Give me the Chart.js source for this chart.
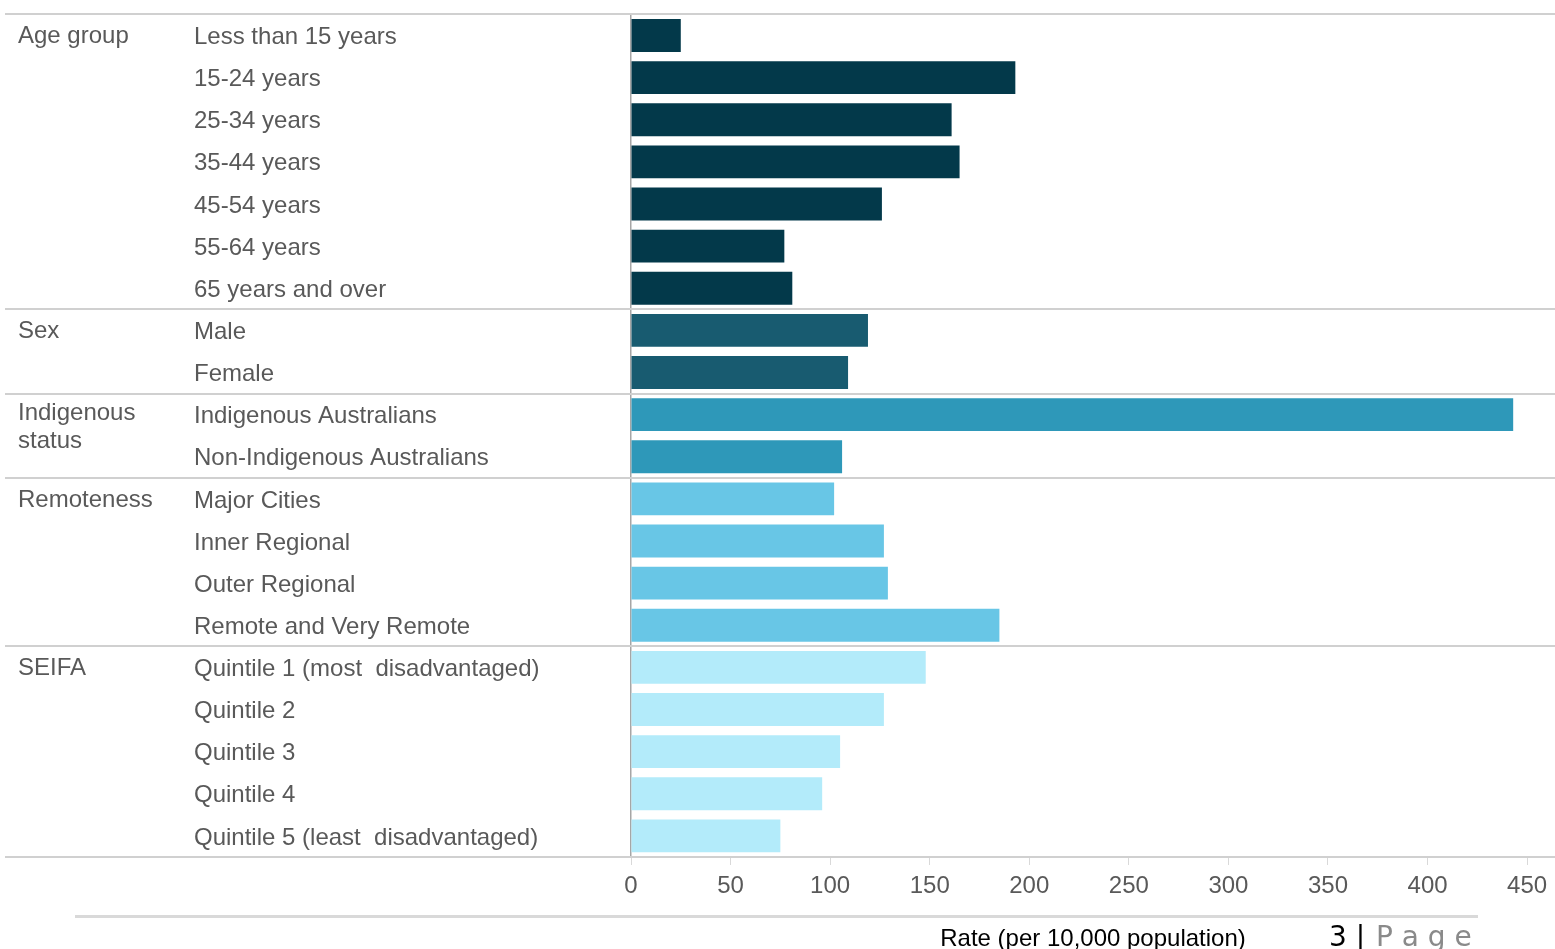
<!DOCTYPE html>
<html>
<head>
<meta charset="utf-8">
<script src="https://cdn.jsdelivr.net/npm/chart.js@4.4.1/dist/chart.umd.min.js"></script>
<style>
  html, body { margin: 0; padding: 0; background: #fff; }
  #wrap { position: relative; width: 1555px; height: 949px; }
</style>
</head>
<body>
<div id="wrap"><canvas id="rateChart" width="1555" height="949"></canvas></div>
<script>
const categories = [
    'Less than 15 years', '15-24 years', '25-34 years', '35-44 years', '45-54 years', '55-64 years', '65 years and over',
    'Male', 'Female',
    'Indigenous Australians', 'Non-Indigenous Australians',
    'Major Cities', 'Inner Regional', 'Outer Regional', 'Remote and Very Remote',
    'Quintile 1 (most  disadvantaged)', 'Quintile 2', 'Quintile 3', 'Quintile 4', 'Quintile 5 (least  disadvantaged)'
];
const rates = [25, 193, 161, 165, 126, 77, 81, 119, 109, 443, 106, 102, 127, 129, 185, 148, 127, 105, 96, 75];
const groupNames = [['Age group'], ['Sex'], ['Indigenous', 'status'], ['Remoteness'], ['SEIFA']];
const groupSizes = [7, 2, 2, 4, 5];
const groupColors = ['#03394a', '#185b70', '#2e98b9', '#68c6e6', '#b3ebfa'];
const xTicks = [0, 50, 100, 150, 200, 250, 300, 350, 400, 450];
const xTitle = 'Rate (per 10,000 population)';

const FONT = '"Liberation Sans", Arial, sans-serif';
const TEXT = '#595959';

// colour per bar from its group
const barColors = [];
groupSizes.forEach((n, g) => { for (let i = 0; i < n; i++) barColors.push(groupColors[g]); });

const groupPlugin = {
    id: 'groups',
    afterDraw(chart) {
        const ctx = chart.ctx;
        const y = chart.scales.y;
        const area = chart.chartArea;
        ctx.save();
        // horizontal separators
        ctx.strokeStyle = '#d0d0d0';
        ctx.lineWidth = 2;
        let start = 0;
        const bounds = [0];
        groupSizes.forEach(n => { start += n; bounds.push(start); });
        bounds.forEach(b => {
            const py = Math.round(area.top + b * (area.bottom - area.top) / categories.length);
            ctx.beginPath();
            ctx.moveTo(5, py);
            ctx.lineTo(chart.width, py);
            ctx.stroke();
        });
        // group labels
        ctx.fillStyle = TEXT;
        ctx.font = '24px ' + FONT;
        ctx.textAlign = 'left';
        ctx.textBaseline = 'middle';
        bounds.slice(0, -1).forEach((b, g) => {
            const py = y.getPixelForValue(b) + (groupNames[g].length > 1 ? -1 : 1);
            groupNames[g].forEach((line, k) => ctx.fillText(line, 18, py + k * 28));
        });
        // page footer
        ctx.strokeStyle = '#d9d9d9';
        ctx.lineWidth = 3;
        ctx.beginPath();
        ctx.moveTo(75, 916.5);
        ctx.lineTo(1478, 916.5);
        ctx.stroke();
        ctx.font = '28px "DejaVu Sans", sans-serif';
        ctx.textBaseline = 'alphabetic';
        ctx.fillStyle = '#000';
        ctx.fillText('3 |', 1329, 946);
        ctx.fillStyle = '#8a8a8a';
        ctx.fillText('P a g e', 1376, 946);
        ctx.restore();
    }
};

new Chart(document.getElementById('rateChart'), {
    type: 'bar',
    data: {
        labels: categories,
        datasets: [{
            data: rates,
            backgroundColor: barColors,
            borderWidth: 0,
            barPercentage: 0.78,
            categoryPercentage: 1
        }]
    },
    options: {
        indexAxis: 'y',
        responsive: false,
        animation: false,
        layout: { padding: { left: 194, top: 14, right: 0, bottom: 0 } },
        plugins: { legend: { display: false }, tooltip: { enabled: false } },
        scales: {
            x: {
                min: 0, max: 464,
                afterBuildTicks: s => { s.ticks = xTicks.map(v => ({ value: v })); },
                afterFit: s => { s.height = 92; },
                grid: { drawOnChartArea: false, drawTicks: true, tickLength: 8, color: '#d9d9d9' },
                border: { display: false },
                ticks: { color: TEXT, font: { family: FONT, size: 24 }, padding: 7, maxRotation: 0 },
                title: {
                    display: true, text: xTitle, color: '#000',
                    font: { family: FONT, size: 24, lineHeight: 1 },
                    padding: { top: 0, bottom: -2 }
                }
            },
            y: {
                afterFit: s => { s.width = 437; },
                grid: { display: false },
                border: { display: true, color: '#a6a6a6', width: 1.5 },
                ticks: { color: TEXT, font: { family: FONT, size: 24 }, crossAlign: 'far', padding: 0, labelOffset: 2, autoSkip: false }
            }
        }
    },
    plugins: [groupPlugin]
});
</script>
</body>
</html>
